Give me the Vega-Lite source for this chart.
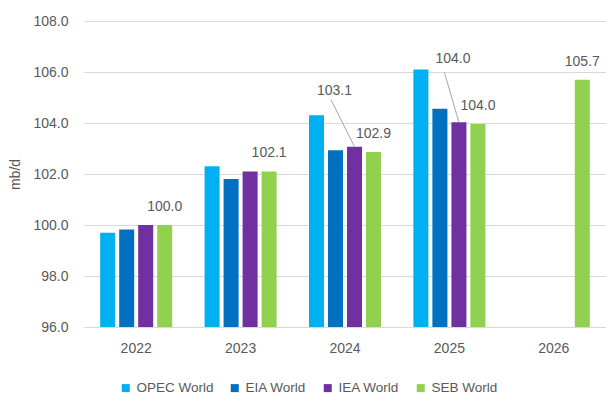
{
  "$schema": "https://vega.github.io/schema/vega-lite/v6.json",
  "width": 522,
  "height": 306,
  "autosize": "none",
  "padding": {"left": 84, "top": 21, "right": 0, "bottom": 67},
  "background": "white",
  "config": {
    "view": {"stroke": null},
    "font": "Liberation Sans",
    "axis": {"labelColor": "#595959", "titleColor": "#595959", "labelFontSize": 14, "titleFontSize": 14, "titleFontWeight": "normal"},
    "legend": {"labelColor": "#595959", "labelFontSize": 13.5}
  },
  "data": {
    "values": [
      {"year": "2022", "series": "OPEC World", "value": 99.7},
      {"year": "2022", "series": "EIA World", "value": 99.82},
      {"year": "2022", "series": "IEA World", "value": 100.0},
      {"year": "2022", "series": "SEB World", "value": 100.0},
      {"year": "2023", "series": "OPEC World", "value": 102.3},
      {"year": "2023", "series": "EIA World", "value": 101.8},
      {"year": "2023", "series": "IEA World", "value": 102.1},
      {"year": "2023", "series": "SEB World", "value": 102.1},
      {"year": "2024", "series": "OPEC World", "value": 104.3},
      {"year": "2024", "series": "EIA World", "value": 102.93},
      {"year": "2024", "series": "IEA World", "value": 103.07},
      {"year": "2024", "series": "SEB World", "value": 102.86},
      {"year": "2025", "series": "OPEC World", "value": 106.1},
      {"year": "2025", "series": "EIA World", "value": 104.56},
      {"year": "2025", "series": "IEA World", "value": 104.03},
      {"year": "2025", "series": "SEB World", "value": 103.96},
      {"year": "2026", "series": "SEB World", "value": 105.7}
    ]
  },
  "encoding": {
    "x": {
      "field": "year", "type": "nominal",
      "scale": {"paddingInner": 0.31, "paddingOuter": 0.155},
      "axis": {"title": null, "labelAngle": 0, "ticks": false, "labelPadding": 14, "domainColor": "#d9d9d9", "grid": false}
    },
    "xOffset": {
      "field": "series", "type": "nominal",
      "sort": ["OPEC World", "EIA World", "IEA World", "SEB World"],
      "scale": {"paddingInner": 0.21, "paddingOuter": 0}
    },
    "y": {
      "field": "value", "type": "quantitative",
      "scale": {"domain": [96, 108], "nice": false, "zero": false, "clamp": true},
      "axis": {"title": "mb/d", "values": [96, 98, 100, 102, 104, 106, 108], "format": ".1f", "domain": false, "ticks": false, "labelPadding": 16, "titlePadding": 10, "gridColor": "#d9d9d9", "gridWidth": 1}
    }
  },
  "layer": [
    {
      "mark": {"type": "bar"},
      "encoding": {
        "y2": {"datum": 96},
        "color": {
          "field": "series", "type": "nominal",
          "sort": ["OPEC World", "EIA World", "IEA World", "SEB World"],
          "scale": {"domain": ["OPEC World", "EIA World", "IEA World", "SEB World"], "range": ["#00B0F0", "#0070C0", "#7030A0", "#92D050"]},
          "legend": {"title": null, "orient": "none", "direction": "horizontal", "legendX": 35, "legendY": 360, "symbolType": "square", "symbolSize": 64, "symbolStrokeWidth": 0, "columnPadding": 14}
        }
      }
    },
    {
      "transform": [{"filter": "datum.series == 'SEB World'"}],
      "mark": {"type": "text", "dy": -18, "baseline": "middle", "fontSize": 14, "color": "#595959"},
      "encoding": {"text": {"field": "value", "type": "quantitative", "format": ".1f"}}
    },
    {
      "transform": [{"filter": "datum.series == 'IEA World' && datum.year == '2024'"}],
      "mark": {"type": "text", "dx": -20, "dy": -56, "baseline": "middle", "fontSize": 14, "color": "#595959"},
      "encoding": {"text": {"field": "value", "type": "quantitative", "format": ".1f"}}
    },
    {
      "transform": [{"filter": "datum.series == 'IEA World' && datum.year == '2025'"}],
      "mark": {"type": "text", "dx": -6, "dy": -63, "baseline": "middle", "fontSize": 14, "color": "#595959"},
      "encoding": {"text": {"field": "value", "type": "quantitative", "format": ".1f"}}
    },
    {
      "transform": [{"filter": "datum.series == 'IEA World' && datum.year == '2024'"}],
      "mark": {"type": "rule", "color": "#a6a6a6", "strokeWidth": 1, "x2Offset": -14, "y2Offset": -47},
      "encoding": {"x2": {"field": "year"}, "y2": {"field": "value"}}
    },
    {
      "transform": [{"filter": "datum.series == 'IEA World' && datum.year == '2025'"}],
      "mark": {"type": "rule", "color": "#a6a6a6", "strokeWidth": 1, "x2Offset": -5, "y2Offset": -50},
      "encoding": {"x2": {"field": "year"}, "y2": {"field": "value"}}
    }
  ]
}
